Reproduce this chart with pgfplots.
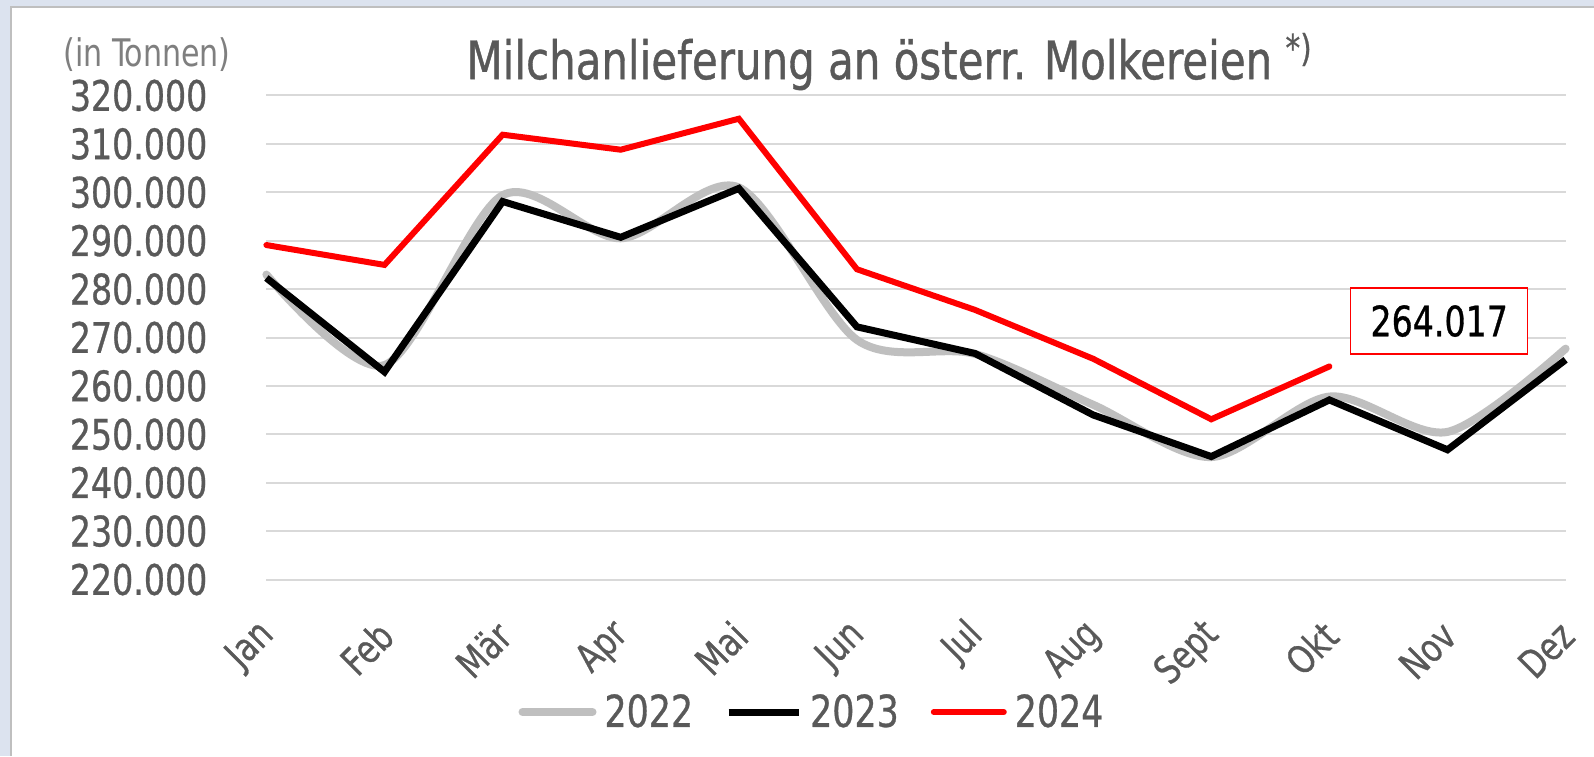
\documentclass[border=0pt]{standalone}
\usepackage{pgfplots}
\pgfplotsset{compat=1.18}
\usepackage{fontspec}
\setmainfont[FakeStretch=0.88, FakeBold=0.7]{DejaVu Sans Condensed}
\newfontfamily\thinfont[FakeStretch=0.88]{DejaVu Sans Condensed}
\definecolor{txtgray}{HTML}{595959}
\definecolor{lblgray}{HTML}{7F7F7F}
\definecolor{gridgray}{HTML}{D9D9D9}
\definecolor{l22}{HTML}{BFBFBF}
\definecolor{bgband}{HTML}{DCE3EF}
\definecolor{red24}{HTML}{FF0000}
\begin{document}
\begin{tikzpicture}
\path[use as bounding box] (0,0) rectangle (797pt,378pt);
\fill[bgband] (0,0) rectangle (797pt,378pt);
\fill[white] (5.5pt,0) rectangle (797pt,374.5pt);
\draw[l22, line width=1pt] (5.5pt,0) -- (5.5pt,374.5pt) -- (797pt,374.5pt);
\node[anchor=base, text=txtgray, font=\fontsize{26.5}{30}\selectfont] at (444.8pt,338.4pt) {Milchanlieferung an österr. Molkereien \textsuperscript{*)}};
\node[text=lblgray, font=\thinfont\fontsize{19}{22}\selectfont] at (73.5pt,350.5pt) {(in Tonnen)};
\begin{axis}[
  at={(133.2pt,88.25pt)}, anchor=south west,
  scale only axis, width=649.6pt, height=242pt,
  xmin=0, xmax=11, ymin=220000, ymax=320000,
  clip=false, scaled y ticks=false,
  axis line style={draw=none},
  major tick length=0pt,
  ymajorgrids, grid style={gridgray, line width=1pt},
  ytick={220000,230000,240000,250000,260000,270000,280000,290000,300000,310000,320000},
  yticklabels={220.000,230.000,240.000,250.000,260.000,270.000,280.000,290.000,300.000,310.000,320.000},
  yticklabel style={text=txtgray, font=\fontsize{21}{25}\selectfont, xshift=-26pt},
  xtick={0,1,2,3,4,5,6,7,8,9,10,11},
  xticklabels={Jan,Feb,Mär,Apr,Mai,Jun,Jul,Aug,Sept,Okt,Nov,Dez},
  xticklabel style={text=txtgray, font=\fontsize{19.5}{22}\selectfont, rotate=45, anchor=east, xshift=-13.5pt, yshift=-18pt},
  legend columns=3,
  legend style={at={(0.4207,-0.2738)}, anchor=center, draw=none, fill=none,
    font=\fontsize{22}{26}\selectfont, text=txtgray,
    /tikz/every odd column/.append style={column sep=2pt},
    /tikz/every even column/.append style={column sep=14pt}},
  legend image code/.code={\draw[#1] (0pt,0pt) -- (35pt,0pt);},
]
\addplot[l22, line width=4pt, smooth, tension=0.5, line cap=round] coordinates {
(0,283000) (1,264300) (2,299400) (3,290500) (4,301000) (5,269500) (6,266600) (7,256100) (8,245300) (9,257800) (10,250500) (11,267700)};
\addlegendentry{2022}
\addplot[black, line width=3.5pt, line join=miter] coordinates {
(0,282300) (1,262900) (2,298100) (3,290700) (4,300800) (5,272200) (6,266700) (7,254000) (8,245400) (9,257100) (10,246800) (11,265400)};
\addlegendentry{2023}
\addplot[red24, line width=3pt, line cap=round] coordinates {
(0,289100) (1,285000) (2,311900) (3,308800) (4,315200) (5,284100) (6,275700) (7,265600) (8,253100) (9,264017)};
\addlegendentry{2024}
\node[draw=red24, line width=0.75pt, fill=white, minimum width=88.5pt, minimum height=33pt, font=\fontsize{21}{25}\selectfont] at (axis cs:9.93,273400) {264.017};
\end{axis}
\end{tikzpicture}
\end{document}
